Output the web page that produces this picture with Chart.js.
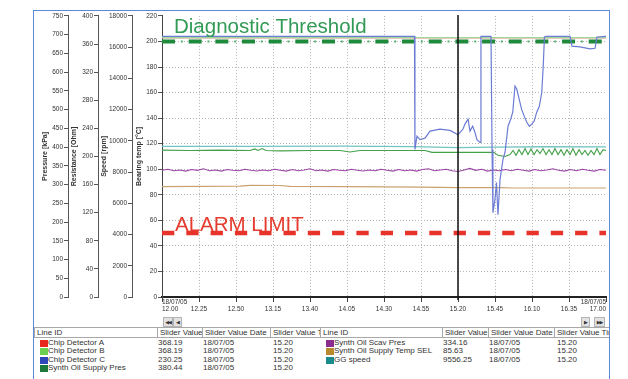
<!DOCTYPE html>
<html lang="en">
<head>
  <meta charset="UTF-8" />
  <title>Bearing Temperature Trend</title>
  <script src="https://cdn.jsdelivr.net/npm/chart.js"></script>
  <style>
    html, body { margin: 0; background: #fff; overflow: hidden; }
    body { width: 628px; height: 379px; font-family: "Liberation Sans", Arial, sans-serif; }
    #frame {
      position: absolute; left: 33px; top: 10px; width: 575px; height: 400px;
      border: 1px solid #5b8bd8; border-bottom: none; overflow: hidden; background: #fff;
    }
    #chart { position: absolute; left: 0; top: 0; }
    .hd, .tx { position: absolute; font-size: 8px; color: #333; white-space: nowrap; overflow: hidden; }
    .hd { box-sizing: border-box; border: 1px solid #a8a8a8; height: 11px; line-height: 9px; padding-left: 2px; }
    .tx { height: 8.5px; line-height: 8.5px; }
    .sw { position: absolute; width: 8px; height: 7px; }
    .nav {
      position: absolute; top: 306px; height: 10px; box-sizing: border-box;
      background: #e2e2e2; border: 1px solid #b4b4b4; font-family: "DejaVu Sans", sans-serif;
      font-size: 5px; line-height: 8px; text-align: center; color: #333; letter-spacing: -1px;
    }
  </style>
</head>
<body>
  <div id="frame">
    <canvas id="chart" width="573" height="305"></canvas>
    <div class="nav" style="left:129px; width:10px;">◀◀</div>
    <div class="nav" style="left:139px; width:9px;">◀</div>
    <div class="nav" style="left:547px; width:9px;">▶</div>
    <div class="nav" style="left:560px; width:11px;">▶▶</div>
  </div>

  <script>
    // time axis: minutes after 12.00
    const xTickMinutes = [0, 25, 50, 75, 100, 125, 150, 175, 200, 225, 250, 275, 300];
    const xTickLabels = [['18/07/05', '12.00'], '12.25', '12.50', '13.15', '13.40', '14.05', '14.30',
                         '14.55', '15.20', '15.45', '16.10', '16.35', ['18/07/05', '17.00']];

    const pressureTicks = [0, 50, 100, 150, 200, 250, 300, 350, 400, 450, 500, 550, 600, 650, 700, 750];
    const resistanceTicks = [0, 40, 80, 120, 160, 200, 240, 280, 320, 360, 400];
    const speedTicks = [0, 2000, 4000, 6000, 8000, 10000, 12000, 14000, 16000, 18000];
    const tempTicks = [0, 20, 40, 60, 80, 100, 120, 140, 160, 180, 200, 220];

    const diagnosticLevel = 200;
    const alarmLevel = 50;
    const sliderTime = 200;

    // [minute, value]
    const chipA = [[0, 369], [300, 369]];
    const chipB = [[0, 369], [300, 369]];
    const chipC = [[0, 371], [170.6, 371], [170.9, 210], [172.3, 229], [174.3, 224], [177.7, 226], [181.1, 236],
      [187.8, 239], [194.6, 237], [200, 231], [203.4, 239], [204.7, 246], [206.8, 253], [208.1, 236],
      [209.9, 243], [211.5, 234], [212.8, 224], [214.9, 220], [215.5, 371], [222.3, 371], [223, 210],
      [223.6, 120], [225, 139], [226, 163], [227, 117], [228.4, 167], [230.4, 196], [231.8, 206],
      [233.8, 243], [235.6, 253], [237, 263], [238.5, 300], [239.7, 296], [241.4, 281], [243, 267],
      [244.8, 257], [246.4, 249], [248.2, 243], [249.8, 246], [251.4, 250], [253.2, 263], [254.9, 271],
      [256.6, 291], [257.6, 329], [258.4, 370], [259.5, 371], [275.7, 371], [277, 357], [282.4, 356],
      [289.2, 353], [292.6, 354], [293.9, 370], [300, 371]];
    const supplyPres = [[0, 392], [18.9, 391], [39.2, 392], [59.5, 391], [62.8, 395], [64.9, 391], [67.6, 396],
      [70.3, 391], [79.7, 390], [100, 391], [120.3, 391], [127, 387], [133.8, 391], [160.8, 391],
      [177.7, 391], [182.4, 386], [201.4, 386], [224.3, 386], [227, 378], [231.8, 375], [235.1, 380],
      [237.2, 391], [239.2, 378], [241.2, 393], [243.2, 380], [245.3, 396], [247.3, 380], [249.3, 395],
      [251.4, 380], [253.4, 393], [255.4, 383], [257.4, 396], [259.5, 380], [261.5, 393], [263.5, 380],
      [265.5, 396], [267.6, 380], [269.6, 393], [271.6, 378], [273.6, 393], [275.7, 380], [277.7, 396],
      [279.7, 378], [281.8, 393], [283.8, 380], [285.8, 391], [287.8, 378], [289.9, 391], [291.9, 380],
      [293.9, 396], [295.9, 380], [298, 393], [300, 391]];
    const scavPres = [[0, 338], [4, 341], [8, 337], [12, 339], [16, 336], [20, 340], [24, 338], [28, 342],
      [32, 337], [36, 339], [40, 336], [44, 340], [48, 338], [52, 337], [56, 341], [60, 338], [64, 336],
      [68, 339], [72, 337], [76, 341], [80, 338], [84, 336], [88, 340], [92, 337], [96, 339], [100, 342],
      [104, 337], [108, 339], [112, 336], [116, 340], [120, 338], [124, 337], [128, 341], [132, 338],
      [136, 336], [140, 339], [144, 337], [148, 341], [152, 338], [156, 336], [160, 340], [164, 337],
      [168, 339], [172, 336], [176, 340], [180, 342], [184, 337], [188, 339], [192, 341], [196, 337],
      [200, 335], [204, 339], [208, 343], [212, 338], [216, 341], [220, 336], [224, 339], [228, 337],
      [232, 340], [236, 337], [240, 341], [244, 338], [248, 336], [252, 340], [256, 337], [260, 339],
      [264, 342], [268, 338], [272, 336], [276, 340], [280, 337], [284, 341], [288, 338], [292, 336],
      [296, 340], [300, 338]];
    const supplyTemp = [[0, 86.4], [52.7, 86.8], [59.5, 87.4], [79.7, 87.3], [86.5, 86.6], [127, 86.4],
      [175.7, 86.0], [200, 85.6], [228.4, 85.6], [237.2, 85.3], [300, 85.3]];
    const ggSpeed = [[0, 9650], [60, 9640], [120, 9660], [170, 9630], [200, 9560], [225, 9600], [260, 9620], [300, 9610]];

    // slider table
    const leftNames = ['Chip Detector A', 'Chip Detector B', 'Chip Detector C', 'Synth Oil Supply Pres'];
    const leftColors = ['#e8261e', '#6ccf4f', '#2e46b8', '#1d7a3c'];
    const leftValues = ['368.19', '368.19', '230.25', '380.44'];
    const rightNames = ['Synth Oil Scav Pres', 'Synth Oil Supply Temp SEL', 'GG speed'];
    const rightColors = ['#8a2d8e', '#b88a2e', '#1a8c8c'];
    const rightValues = ['334.16', '85.63', '9556.25'];
    const sliderDate = '18/07/05';
    const sliderClock = '15.20';
    const headers = ['Line ID', 'Slider Value', 'Slider Value Date', 'Slider Value Time'];

    const family = '"Liberation Sans", Arial, sans-serif';
    const pts = arr => arr.map(p => ({ x: p[0], y: p[1] }));

    function sideAxis(weight, ticksArr, title, titlePad, width) {
      return {
        type: 'linear', position: 'left', weight,
        min: ticksArr[0], max: ticksArr[ticksArr.length - 1],
        afterBuildTicks: s => { s.ticks = ticksArr.map(v => ({ value: v })); },
        afterFit: s => { s.width = width; },
        ticks: { autoSkip: false, font: { size: 6.5, family }, color: '#333', padding: 1, callback: v => String(v) },
        grid: { drawOnChartArea: false, drawTicks: true, tickLength: 4, color: '#555', tickColor: '#555' },
        border: { display: true, color: '#555', width: 1 },
        title: { display: true, text: title, color: '#333', font: { size: 7, weight: 'bold', family },
                 padding: { top: titlePad, bottom: 0 } }
      };
    }

    const tempAxis = sideAxis(1, tempTicks, 'Bearing temp [°C]', 3, 30);
    tempAxis.grid = {
      drawOnChartArea: true, drawTicks: true, tickLength: 4, tickColor: '#555', lineWidth: 1,
      color: c => (c.tick && (c.tick.value === 220 || c.tick.value === 0)) ? 'rgba(0,0,0,0)' : '#b4b4b4'
    };
    tempAxis.border = { display: true, color: '#444', width: 1, dash: [1, 2] };

    const overlay = {
      id: 'overlay',
      afterDatasetsDraw(chart) {
        const { ctx, chartArea, scales } = chart;
        ctx.save();
        ctx.font = '20.5px ' + family;
        ctx.textBaseline = 'alphabetic';
        ctx.fillStyle = '#319a55';
        ctx.fillText('Diagnostic Threshold', chartArea.left + 12, scales.y.getPixelForValue(diagnosticLevel) - 8.5);
        ctx.fillStyle = '#e63c2f';
        ctx.fillText('ALARM LIMIT', chartArea.left + 13, scales.y.getPixelForValue(alarmLevel) - 2);
        const sx = Math.round(scales.x.getPixelForValue(sliderTime));
        ctx.strokeStyle = '#111';
        ctx.lineWidth = 1.5;
        ctx.beginPath();
        ctx.moveTo(sx, chartArea.top - 1);
        ctx.lineTo(sx, chartArea.bottom + 3);
        ctx.stroke();
        ctx.restore();
      }
    };

    const line = (data, axis, color, width, order, extra) => Object.assign({
      data: pts(data), yAxisID: axis, borderColor: color, borderWidth: width,
      pointRadius: 0, tension: 0, fill: false, order
    }, extra || {});

    new Chart(document.getElementById('chart'), {
      type: 'line',
      data: {
        datasets: [
          line(chipC, 'res', '#6c7bd4', 1.2, 1),
          line([[0, diagnosticLevel], [300, diagnosticLevel]], 'y', '#1f8a3c', 4, 2, { borderDash: [13, 13.67], borderCapStyle: 'butt' }),
          line([[0, diagnosticLevel], [300, diagnosticLevel]], 'y', '#5aae6c', 2, 3, { borderDash: [2, 24.67], borderDashOffset: 7.87 }),
          line([[0, alarmLevel], [300, alarmLevel]], 'y', '#e8332a', 4.5, 4, { borderDash: [12.3, 12], borderCapStyle: 'butt' }),
          line(chipB, 'res', '#9fd69a', 1.2, 5),
          line(chipA, 'res', '#e8261e', 1.2, 6),
          line(supplyPres, 'pres', '#45a04a', 1.1, 7),
          line(ggSpeed, 'speed', '#72c4c2', 1.3, 8),
          line(scavPres, 'pres', '#9a47a4', 1.1, 9),
          line(supplyTemp, 'y', '#c9a270', 1.1, 10)
        ]
      },
      options: {
        responsive: false,
        animation: false,
        layout: { padding: { top: 4, left: 0, right: 1, bottom: 0 } },
        plugins: { legend: { display: false }, tooltip: { enabled: false } },
        scales: {
          x: {
            type: 'linear', min: 0, max: 300,
            afterBuildTicks: s => { s.ticks = xTickMinutes.map(v => ({ value: v })); },
            afterFit: s => { s.height = 19; },
            ticks: {
              autoSkip: false, maxRotation: 0, align: 'inner', crossAlign: 'far', padding: 0,
              font: { size: 6.5, family, lineHeight: 1.05 }, color: '#333',
              callback: (v, i) => xTickLabels[i]
            },
            grid: {
              drawOnChartArea: true, drawTicks: true, tickLength: 5, tickColor: '#444', lineWidth: 1,
              color: c => (c.tick && (c.tick.value === 0 || c.tick.value === 300)) ? 'rgba(0,0,0,0)' : '#b4b4b4'
            },
            border: { display: true, color: '#222', width: 2, dash: [1, 2] }
          },
          pres: sideAxis(4, pressureTicks, 'Pressure [kPa]', 7, 34),
          res: sideAxis(3, resistanceTicks, 'Resistance [Ohm]', 2, 30),
          speed: sideAxis(2, speedTicks, 'Speed [rpm]', 2, 34),
          y: tempAxis
        }
      },
      plugins: [overlay]
    });

    // slider value table under the chart
    const frame = document.getElementById('frame');
    function put(cls, x, y, w, text, color) {
      const d = document.createElement('div');
      d.className = cls;
      d.style.left = x + 'px';
      d.style.top = y + 'px';
      if (w) d.style.width = w + 'px';
      if (text !== undefined) d.textContent = text;
      if (color) d.style.background = color;
      frame.appendChild(d);
    }
    function table(cols, names, colors, values) {
      for (let c = 0; c < 4; c++) put('hd', cols[c], 316, cols[c + 1] - cols[c] + 1, headers[c]);
      names.forEach((name, i) => {
        const top = 327.5 + i * 8.5;
        put('sw', cols[0] + 6, top + 1, 0, undefined, colors[i]);
        put('tx', cols[0] + 14, top, cols[1] - cols[0] - 15, name);
        put('tx', cols[1] + 1, top, cols[2] - cols[1] - 2, values[i]);
        put('tx', cols[2] + 1, top, cols[3] - cols[2] - 2, sliderDate);
        put('tx', cols[3] + 3, top, cols[4] - cols[3] - 4, sliderClock);
      });
    }
    table([0, 123, 168, 236, 286], leftNames, leftColors, leftValues);
    table([286, 408, 454, 520, 577], rightNames, rightColors, rightValues);
  </script>
</body>
</html>
